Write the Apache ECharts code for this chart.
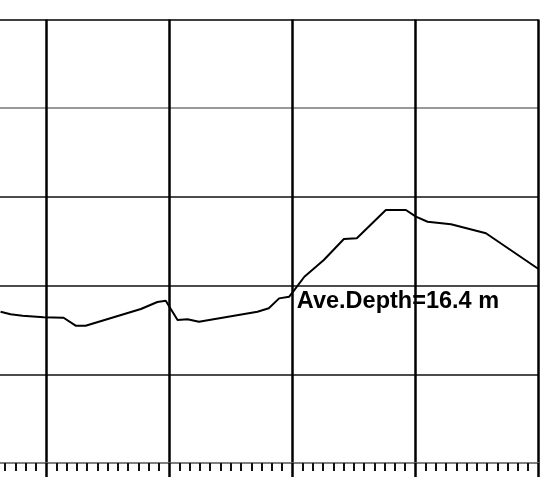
<!DOCTYPE html>
<html>
<head>
<meta charset="utf-8">
<script src="https://cdn.jsdelivr.net/npm/echarts@6/dist/echarts.min.js"></script>
<style>
html,body{margin:0;padding:0;background:#fff;overflow:hidden;width:542px;height:484px;}
#wrap{position:relative;width:542px;height:484px;overflow:hidden;}
#chart{position:absolute;left:-77.5px;top:0;width:619.5px;height:484px;}
</style>
</head>
<body>
<div id="wrap"><div id="chart"></div></div>
<script>
// Depth profile (x: grid columns, y: grid rows from bottom)
const profileX = [0.630, 0.711, 0.809, 0.980, 1.142, 1.240, 1.321, 1.770, 1.904, 1.972, 1.998, 2.068, 2.148, 2.242, 2.717, 2.809, 2.893, 2.975, 3.016, 3.098, 3.256, 3.419, 3.524, 3.760, 3.923, 4.004, 4.099, 4.289, 4.573, 5.000];
const profileY = [1.706, 1.676, 1.661, 1.643, 1.638, 1.548, 1.548, 1.736, 1.815, 1.830, 1.770, 1.612, 1.620, 1.593, 1.706, 1.744, 1.856, 1.875, 1.950, 2.100, 2.289, 2.525, 2.533, 2.852, 2.852, 2.777, 2.720, 2.691, 2.590, 2.187];
const xTicks = [0, 1, 2, 3, 4, 5];
const yTicks = [0, 1, 2, 3, 4, 5];
const annotationText = 'Ave.Depth=16.4 m';
const annotationAt = [3.037, 1.826];

const chart = echarts.init(document.getElementById('chart'), null, {renderer: 'canvas'});
const data = profileX.map((x, i) => [x, profileY[i]]);
chart.setOption({
  animation: false,
  backgroundColor: '#ffffff',
  grid: {left: 0, right: 4.5, top: 19.5, bottom: 21},
  xAxis: {
    type: 'value', min: xTicks[0], max: xTicks[xTicks.length - 1], interval: 1,
    axisLabel: {show: false},
    axisLine: {show: true, lineStyle: {color: '#777', width: 1.5}},
    axisTick: {show: true, length: 14, lineStyle: {color: '#000', width: 2.5}},
    minorTick: {show: true, splitNumber: 12, length: 8, lineStyle: {color: '#111', width: 2}},
    splitLine: {show: true, lineStyle: {color: '#000', width: 2.5}}
  },
  yAxis: {
    type: 'value', min: yTicks[0], max: yTicks[yTicks.length - 1], interval: 1,
    axisLabel: {show: false},
    axisLine: {show: false},
    axisTick: {show: false},
    splitLine: {show: true, lineStyle: {color: ['#777', '#111', '#111', '#111', '#777', '#000'], width: 1.5}}
  },
  series: [{
    type: 'line',
    data: data,
    symbol: 'none',
    lineStyle: {color: '#000', width: 2},
    markPoint: {
      symbol: 'circle', symbolSize: 0,
      data: [{coord: annotationAt, value: annotationText}],
      label: {
        show: true, position: 'right', distance: 0,
        formatter: annotationText,
        color: '#000', fontSize: 23.5, fontWeight: 'bold',
        fontFamily: 'Liberation Sans, Arial, sans-serif'
      }
    }
  }]
});
</script>
</body>
</html>
